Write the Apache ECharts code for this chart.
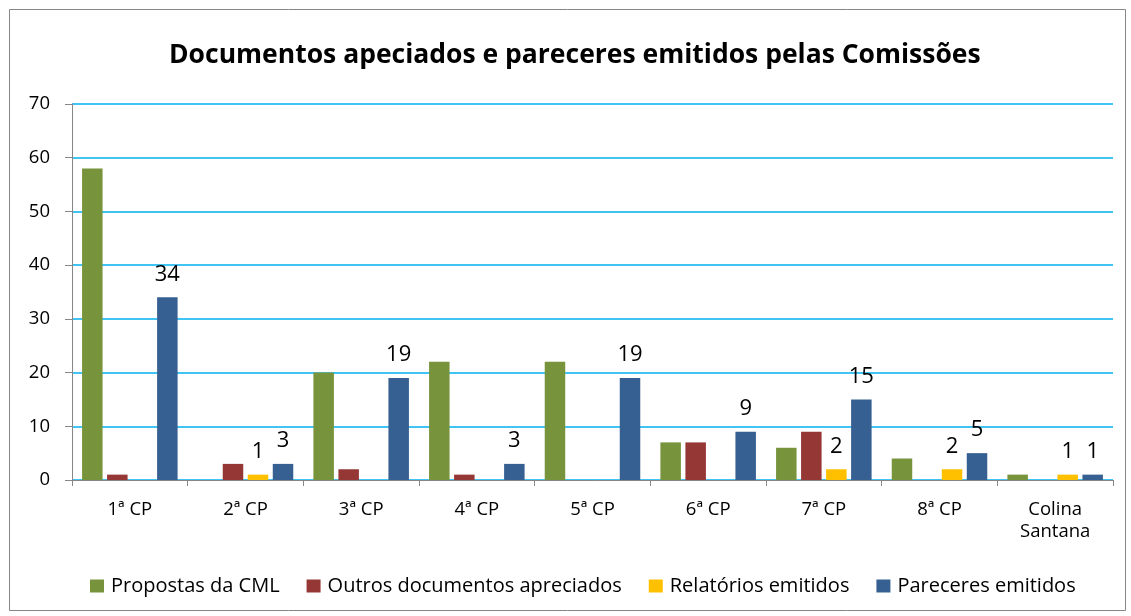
<!DOCTYPE html>
<html>
<head>
<meta charset="utf-8">
<script src="https://cdn.jsdelivr.net/npm/echarts@6/dist/echarts.min.js"></script>
<style>html,body{margin:0;padding:0;background:#fff;}#c{width:1131px;height:616px;}</style>
</head>
<body>
<div id="c"></div>
<script>
const categories = ['1ª CP','2ª CP','3ª CP','4ª CP','5ª CP','6ª CP','7ª CP','8ª CP','Colina\nSantana'];
const propostas = [58, 0, 20, 22, 22, 7, 6, 4, 1];
const outros = [1, 3, 2, 1, 0, 7, 9, 0, 0];
const relatorios = [0, 1, 0, 0, 0, 0, 2, 2, 1];
const pareceres = [34, 3, 19, 3, 19, 9, 15, 5, 1];
const yTicks = [0, 10, 20, 30, 40, 50, 60, 70];

const FONT = '"Open Sans", "Noto Sans", sans-serif';
const labelStyle = {
  show: true, position: 'top', color: '#000', fontSize: 22, fontFamily: FONT,
  distance: 12,
  formatter: p => (p.value === 0 ? '' : String(p.value))
};
const chart = echarts.init(document.getElementById('c'), null, {renderer: 'canvas'});
chart.setOption({
  animation: false,
  backgroundColor: '#fff',
  title: {
    text: 'Documentos apeciados e pareceres emitidos pelas Comissões',
    left: 164, top: 37,
    textStyle: {fontFamily: FONT, fontWeight: 'bold', fontSize: 26.5, color: '#000'}
  },
  graphic: [{
    type: 'rect', left: 7, top: 7, shape: {width: 1116, height: 601},
    style: {fill: 'none', stroke: '#868686', lineWidth: 1}, silent: true
  }],
  legend: {
    top: 571, left: 85, itemWidth: 14, itemHeight: 13, itemGap: 27,
    icon: 'rect',
    textStyle: {fontFamily: FONT, fontSize: 20, color: '#000', padding: [0, 0, 0, 2]},
    data: ['Propostas da CML', 'Outros documentos apreciados', 'Relatórios emitidos', 'Pareceres emitidos']
  },
  grid: {left: 72, right: 18, top: 104, bottom: 136, containLabel: false},
  xAxis: {
    type: 'category', data: categories,
    axisLine: {lineStyle: {color: '#868686', width: 1}},
    axisTick: {show: true, length: 6, lineStyle: {color: '#868686'}},
    axisLabel: {fontFamily: FONT, fontSize: 18.5, color: '#000', margin: 19, lineHeight: 22}
  },
  yAxis: {
    type: 'value', min: yTicks[0], max: yTicks[yTicks.length - 1], interval: 10,
    axisLine: {show: true, lineStyle: {color: '#868686'}},
    axisTick: {show: true, inside: false, length: 7, lineStyle: {color: '#868686'}},
    axisLabel: {fontFamily: FONT, fontSize: 18.5, color: '#000', margin: 22},
    splitLine: {lineStyle: {color: '#00B0F0', width: 1.5}}
  },
  series: [
    {name: 'Propostas da CML', type: 'bar', data: propostas, barWidth: 20.5, barGap: '22%',
     itemStyle: {color: '#77933C'}},
    {name: 'Outros documentos apreciados', type: 'bar', data: outros, barWidth: 20.5,
     itemStyle: {color: '#953735'}},
    {name: 'Relatórios emitidos', type: 'bar', data: relatorios, barWidth: 20.5,
     itemStyle: {color: '#FFC000'}, label: labelStyle},
    {name: 'Pareceres emitidos', type: 'bar', data: pareceres, barWidth: 20.5,
     itemStyle: {color: '#376092'}, label: labelStyle}
  ]
});
</script>
</body>
</html>
